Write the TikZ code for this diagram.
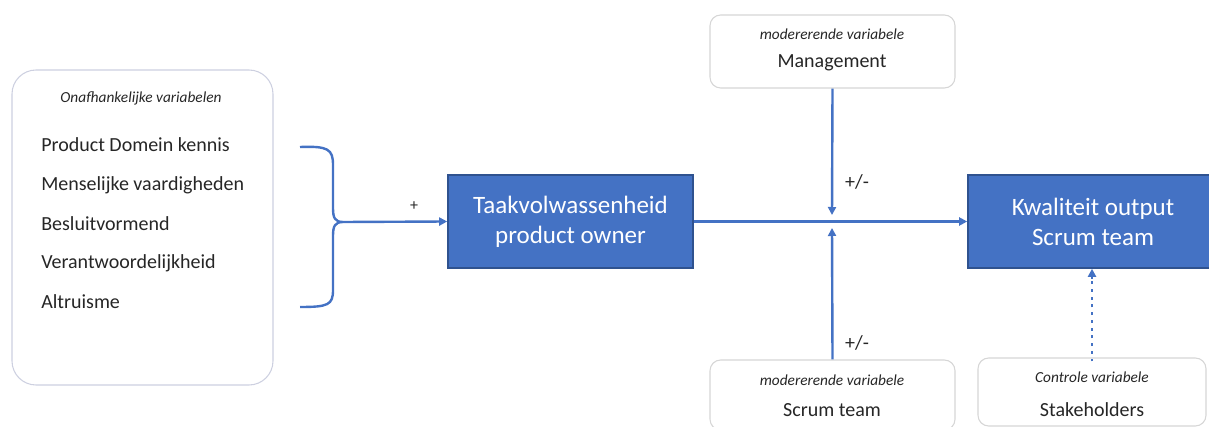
\documentclass[tikz,border=0pt]{standalone}
\usepackage{fontspec}
\setmainfont{Carlito}
\usetikzlibrary{arrows.meta}
\definecolor{pblue}{HTML}{4472C4}
\definecolor{pdark}{HTML}{2F528F}
\definecolor{lframe}{HTML}{CDD0E0}
\definecolor{gframe}{HTML}{D6D6D6}
\definecolor{txt}{HTML}{262626}
\tikzset{
  x=0.75pt, y=-0.75pt,
  bluebox/.style={draw=pdark, line width=1.2pt, fill=pblue, text=white, inner sep=0pt,
     align=center, font=\fontsize{18.75}{22.5}\selectfont},
  varbox/.style={draw=gframe, line width=0.8pt, rounded corners=8pt, fill=white, inner sep=0pt},
  smalli/.style={font=\fontsize{11.5}{13}\selectfont\itshape, text=txt, inner sep=0pt},
  midt/.style={font=\fontsize{15}{18}\selectfont, text=txt, inner sep=0pt},
  item/.style={font=\fontsize{15}{18}\selectfont, text=txt, inner sep=0pt, anchor=west},
  conn/.style={draw=pblue, line width=1.8pt, -{Triangle[length=6pt,width=6pt]}},
}
\begin{document}
\begin{tikzpicture}
\useasboundingbox (0,0) rectangle (1209,427);
% left rounded box
\node[draw=lframe, line width=0.8pt, rounded corners=18pt, minimum width=261*0.75pt, minimum height=315*0.75pt, inner sep=0pt] (indep) at (142.5,227.5) {};
\node[smalli] (indeptitle) at (141,98) {Onafhankelijke variabelen};
\node[item] (i1) at (41,145) {Product Domein kennis};
\node[item] (i2) at (41,185) {Menselijke vaardigheden};
\node[item] (i3) at (41,224) {Besluitvormend};
\node[item] (i4) at (41,263) {Verantwoordelijkheid};
\node[item] (i5) at (41,302) {Altruisme};
% brace
\coordinate (btop) at (300,147);
\coordinate (bbot) at (300,307);
\coordinate (btip) at (343,222);
\draw[draw=pblue, line width=1.8pt] (btop) .. controls (328,146) and (333,149) .. (333,165) -- (333,208)
   .. controls (333,218) and (335,222) .. (btip)
   .. controls (335,222) and (333,226) .. (333,236) -- (333,290)
   .. controls (333,305) and (328,307) .. (bbot);
% main boxes
\node[bluebox, minimum width=245*0.75pt, minimum height=93*0.75pt] (taak) at (570.5,221.5) {Taakvolwassenheid\\product owner};
\node[bluebox, minimum width=250*0.75pt, minimum height=93*0.75pt] (kwal) at (1093,221.5) {Kwaliteit output\\Scrum team};
\draw[conn] (btip) -- (taak.west);
\node[font=\fontsize{12}{14}\selectfont, text=txt, inner sep=0pt] (plus) at (414,206) {+};
\draw[conn] (taak.east) -- (kwal.west);
% moderating boxes
\node[varbox, minimum width=245*0.75pt, minimum height=73*0.75pt] (mgmt) at (832.5,51.5) {};
\node[smalli] (mgmtt) at (832,34) {modererende variabele};
\node[midt] (mgmtn) at (832,63) {Management};
\node[varbox, minimum width=245*0.75pt, minimum height=70*0.75pt] (scrum) at (832.5,395) {};
\node[smalli] (scrumt) at (832,380) {modererende variabele};
\node[midt] (scrumn) at (832,410) {Scrum team};
\node[varbox, minimum width=228*0.75pt, minimum height=68*0.75pt] (stake) at (1092,392) {};
\node[smalli] (staket) at (1092,377) {Controle variabele};
\node[midt] (staken) at (1092,410) {Stakeholders};
% moderating connectors
\coordinate (mtop) at (832,215);
\coordinate (mbot) at (832,228);
\draw[conn] (mgmt.south) -- (mtop);
\draw[conn] (scrum.north) -- (mbot);
\node[midt] (pm1) at (857,182) {+/-};
\node[midt] (pm2) at (857,343) {+/-};
% control
\coordinate (cdot) at (1092,279);
\draw[draw=pblue, line width=2.2pt, dash pattern=on 2.2pt off 3.6pt] ([yshift=-3pt]stake.north) -- (cdot);
\draw[draw=pblue, line width=1.8pt, -{Triangle[length=6pt,width=6pt]}] (cdot) -- (kwal.south -| stake.north);
\end{tikzpicture}
\end{document}
